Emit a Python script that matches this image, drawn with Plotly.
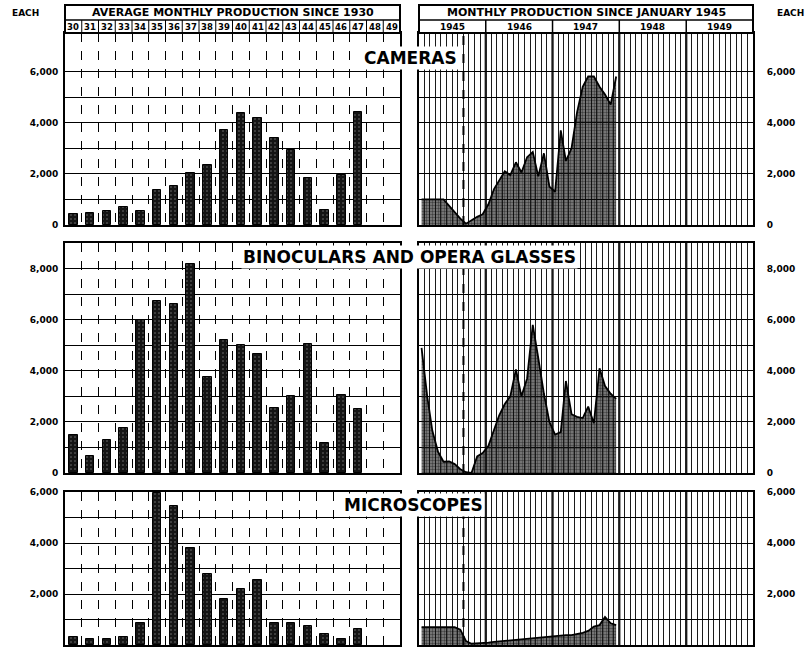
import pandas as pd
import plotly.graph_objects as go

# ---- annual averages (units per month), 1930-1947 ----
years = list(range(1930, 1950))
year_labels = [str(y)[2:] for y in years]
bar_years = list(range(1930, 1948))
cameras_avg = [430, 480, 530, 720, 560, 1370, 1520, 2020, 2360, 3710,
               4380, 4180, 3390, 2930, 1840, 600, 1970, 4430]
binoculars_avg = [1480, 660, 1310, 1760, 6000, 6720, 6600, 8190, 3740, 5200,
                  5000, 4650, 2530, 3020, 5040, 1180, 3050, 2500]
microscopes_avg = [300, 250, 220, 300, 850, 5950, 5470, 3800, 2800, 1820,
                   2200, 2540, 870, 850, 755, 420, 220, 610]

# ---- monthly production, Jan 1945 - Dec 1947 ----
months = pd.date_range("1945-01-01", periods=36, freq="MS") + pd.Timedelta(days=14)
cameras_monthly = [1000, 1000, 1000, 1000, 1000, 750, 500, 250, 50, 200,
                   320, 420, 800, 1400, 1750, 2100, 1950, 2450, 2050, 2650,
                   2850, 1900, 2800, 1500, 1300, 3700, 2500, 3000, 4400, 5400,
                   5800, 5800, 5400, 5100, 4700, 5800]
binoculars_monthly = [4900, 3000, 1650, 830, 440, 450, 350, 150, 30, 0,
                      650, 780, 1050, 1700, 2250, 2700, 3000, 4050, 3000, 3700,
                      5800, 4500, 3100, 2000, 1500, 1600, 3600, 2300, 2200, 2150,
                      2600, 1950, 4100, 3400, 3100, 2900]
microscopes_monthly = [700, 700, 700, 700, 700, 700, 700, 600, 150, 50,
                       60, 70, 90, 120, 140, 160, 190, 210, 230, 250,
                       270, 290, 310, 330, 350, 370, 390, 390, 420, 480,
                       550, 720, 780, 1100, 850, 780]
period_years = ["1945", "1946", "1947", "1948", "1949"]
period_starts = ["1945-01-01", "1946-01-01", "1947-01-01", "1948-01-01", "1949-01-01", "1950-01-01"]
period_mids = ["1945-07-02", "1946-07-02", "1947-07-02", "1948-07-02", "1949-07-02"]
month_starts = pd.date_range("1945-01-01", "1950-01-01", freq="MS")

panel_titles = ["CAMERAS", "BINOCULARS AND OPERA GLASSES", "MICROSCOPES"]
y_tops = [7500, 9000, 6000]
grid_tops = [6000, 8000, 5000]
label_tops = [6000, 8000, 6000]

W, H = 810, 648
FONT = "DejaVu Sans"
LEFT_X = [65 / W, 400 / W]
RIGHT_X = [419 / W, 753 / W]
# vertical extents (pixels from top) of the three plot areas
ROWS = [(33, 225), (243, 473), (492, 645)]


def py(p):
    return 1 - p / H


def fmt(v):
    return "0" if v == 0 else f"{v:,}"


fig = go.Figure()

avg_series = [cameras_avg, binoculars_avg, microscopes_avg]
mon_series = [cameras_monthly, binoculars_monthly, microscopes_monthly]

for r in range(3):
    xl, xr = f"x{2 * r + 1}", f"x{2 * r + 2}"
    yl, yr = f"y{2 * r + 1}", f"y{2 * r + 2}"
    fig.add_trace(go.Bar(
        x=bar_years, y=avg_series[r], xaxis=xl, yaxis=yl, width=0.5,
        marker=dict(color="#141414", line=dict(color="black", width=1),
                    pattern=dict(shape=".", fgcolor="#d8d8d8", bgcolor="#141414",
                                 size=4, solidity=0.12)),
        showlegend=False, hoverinfo="x+y"))
    fig.add_trace(go.Scatter(
        x=months, y=mon_series[r], xaxis=xr, yaxis=yr, mode="lines",
        line=dict(color="black", width=1.8), fill="tozeroy",
        fillpattern=dict(shape=".", fgcolor="black", bgcolor="rgba(30,30,30,0.55)",
                         size=3, solidity=0.5),
        showlegend=False))

layout = dict(
    width=W, height=H, margin=dict(l=0, r=0, t=0, b=0, autoexpand=False),
    paper_bgcolor="white", plot_bgcolor="white",
    font=dict(family=FONT, color="black"), bargap=0,
)

tickfont = dict(family=FONT, size=9, color="black", weight="bold")

for r in range(3):
    top_px, bot_px = ROWS[r]
    ydom = [py(bot_px), py(top_px)]
    tv = list(range(0, grid_tops[r] + 1, 1000))
    if label_tops[r] > grid_tops[r]:
        tv.append(label_tops[r])
    tt = [fmt(v) if v % 2000 == 0 else "" for v in tv]
    tt_left = list(tt)
    if r == 2:
        tt_left[0] = ""
    axis_common = dict(showline=True, linecolor="black", linewidth=2, mirror=True,
                       zeroline=False, fixedrange=True, ticks="", automargin=False)
    ia, ib = 2 * r + 1, 2 * r + 2
    layout[f"xaxis{ia if ia > 1 else ''}"] = dict(
        domain=LEFT_X, anchor=f"y{ia}", range=[1929.5, 1949.5],
        tickvals=[y + 0.5 for y in years[:-1]], showticklabels=False,
        showgrid=True, gridcolor="black", gridwidth=1, griddash="dash", **axis_common)
    layout[f"yaxis{ia if ia > 1 else ''}"] = dict(
        domain=ydom, anchor=f"x{ia}", range=[0, y_tops[r]],
        tickvals=tv, ticktext=tt_left, tickfont=tickfont, ticklabelstandoff=3,
        showgrid=True, gridcolor="black", gridwidth=1, **axis_common)
    layout[f"xaxis{ib}"] = dict(
        domain=RIGHT_X, anchor=f"y{ib}", type="date",
        range=["1945-01-01", "1950-01-01"], tickvals=list(month_starts),
        showticklabels=False, showgrid=True, gridcolor="#1a1a1a", gridwidth=1,
        **axis_common)
    layout[f"yaxis{ib}"] = dict(
        domain=ydom, anchor=f"x{ib}", side="right", range=[0, y_tops[r]],
        tickvals=tv, ticktext=tt, tickfont=tickfont, ticklabelstandoff=10,
        showgrid=True, gridcolor="black", gridwidth=1, **axis_common)

fig.update_layout(**layout)

shapes = []
annotations = []

# header boxes above the camera panels
for xdom in (LEFT_X, RIGHT_X):
    shapes.append(dict(type="rect", xref="paper", yref="paper",
                       x0=xdom[0], x1=xdom[1], y0=py(33), y1=py(5),
                       line=dict(color="black", width=2), fillcolor="white", layer="above"))
    shapes.append(dict(type="line", xref="paper", yref="paper",
                       x0=xdom[0], x1=xdom[1], y0=py(20), y1=py(20),
                       line=dict(color="black", width=1.5)))

# cell dividers in the year rows
for y in years[:-1]:
    shapes.append(dict(type="line", xref="x", yref="paper", x0=y + 0.5, x1=y + 0.5,
                       y0=py(33), y1=py(20), line=dict(color="black", width=1)))
for d in period_starts[1:-1]:
    shapes.append(dict(type="line", xref="x2", yref="paper", x0=d, x1=d,
                       y0=py(33), y1=py(20), line=dict(color="black", width=1.5)))

for r in range(3):
    ib = 2 * r + 2
    # heavier rules at each new year
    for d in period_starts[1:-1]:
        shapes.append(dict(type="line", xref=f"x{ib}", yref=f"y{ib} domain",
                           x0=d, x1=d, y0=0, y1=1, layer="below",
                           line=dict(color="black", width=2.2)))
    # dashed marker line at September 1945
    shapes.append(dict(type="line", xref=f"x{ib}", yref=f"y{ib} domain",
                       x0="1945-09-01", x1="1945-09-01", y0=0, y1=1,
                       line=dict(color="black", width=2, dash="dash")))

small = dict(family=FONT, size=11, color="black", weight="bold")
tiny = dict(family=FONT, size=8.5, color="black", weight="bold")
tiny_wide = dict(family=FONT, size=9, color="black", weight="bold")
center = dict(xanchor="center", yanchor="middle", showarrow=False)

annotations.append(dict(text="EACH", xref="paper", yref="paper", x=25 / W, y=py(13),
                        font=dict(family=FONT, size=9, weight="bold"), **center))
annotations.append(dict(text="EACH", xref="paper", yref="paper", x=790 / W, y=py(13),
                        font=dict(family=FONT, size=9, weight="bold"), **center))
annotations.append(dict(text="AVERAGE MONTHLY PRODUCTION SINCE 1930", xref="paper",
                        yref="paper", x=sum(LEFT_X) / 2, y=py(12.5), font=small, **center))
annotations.append(dict(text="MONTHLY PRODUCTION SINCE JANUARY 1945", xref="paper",
                        yref="paper", x=sum(RIGHT_X) / 2, y=py(12.5), font=small, **center))
for y, lab in zip(years, year_labels):
    annotations.append(dict(text=lab, xref="x", yref="paper", x=y, y=py(26.5),
                            font=tiny, **center))
for d, lab in zip(period_mids, period_years):
    annotations.append(dict(text=lab, xref="x2", yref="paper", x=d, y=py(26.5),
                            font=tiny_wide, **center))

title_pos = [(410, 58), (409, 257), (413, 505)]
for (tx, ty), t in zip(title_pos, panel_titles):
    annotations.append(dict(text=t, xref="paper", yref="paper", x=tx / W, y=py(ty),
                            bgcolor="white", borderpad=1,
                            font=dict(family=FONT, size=17, color="black", weight="bold"),
                            **center))

fig.update_layout(shapes=shapes, annotations=annotations)
fig.write_html("out.html")
